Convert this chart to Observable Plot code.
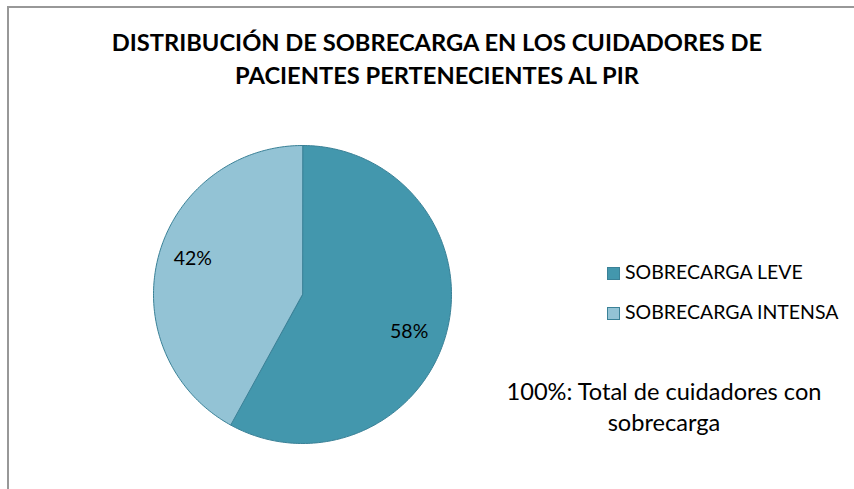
<!DOCTYPE html>
<html><head><meta charset="utf-8">
<script src="https://cdn.jsdelivr.net/npm/d3@7"></script>
<script src="https://cdn.jsdelivr.net/npm/@observablehq/plot@0.6"></script>
<style>
html,body{margin:0;padding:0;background:#fff;width:854px;height:489px;overflow:hidden;}
#wrap{position:relative;width:854px;height:489px;font-family:Lato,"Open Sans",sans-serif;}
#frame{position:absolute;left:7px;top:6px;width:900px;height:600px;border:2px solid #989898;box-sizing:border-box;}
#title{position:absolute;left:0;top:26.3px;width:874px;text-align:center;font-weight:bold;font-size:23.7px;line-height:33px;color:#000;}
#legend{position:absolute;left:607px;top:261.7px;font-size:19.5px;color:#000;}
.item{display:flex;align-items:center;height:20px;line-height:20px;margin-bottom:20px;white-space:nowrap;}
.sw{width:11px;height:11px;margin-right:5px;border:1px solid #3a8197;position:relative;top:1.5px;}
#note{position:absolute;left:480px;top:376px;width:368px;text-align:center;font-size:23.6px;line-height:31px;color:#000;}
#chart{position:absolute;left:0;top:0;}
</style></head>
<body><div id="wrap"><div id="frame"></div><div id="chart"></div>
<div id="title"></div><div id="legend"></div><div id="note"></div></div>
<script>
const titleLines = ["DISTRIBUCIÓN DE SOBRECARGA EN LOS CUIDADORES DE", "PACIENTES PERTENECIENTES AL PIR"];
const categories = ["SOBRECARGA LEVE", "SOBRECARGA INTENSA"];
const values = [58, 42];
const labels = ["58%", "42%"];
const colors = ["#4397ad", "#93c3d5"];
const noteLines = ["100%: Total de cuidadores con", "sobrecarga"];

const total = d3.sum(values);
// slice polygons in unit coordinates, starting at 12 o'clock, clockwise
const poly = [];
const labelPts = [];
let start = 0;
categories.forEach((c, i) => {
  const a0 = start / total * 2 * Math.PI;
  const a1 = (start + values[i]) / total * 2 * Math.PI;
  poly.push({cat: c, x: 0, y: 0});
  const n = Math.max(2, Math.ceil((a1 - a0) / (Math.PI / 180)));
  for (let k = 0; k <= n; k++) {
    const a = a0 + (a1 - a0) * k / n;
    poly.push({cat: c, x: Math.sin(a), y: Math.cos(a)});
  }
  const am = (a0 + a1) / 2;
  labelPts.push({cat: c, label: labels[i], x: 0.76 * Math.sin(am), y: 0.76 * Math.cos(am)});
  start += values[i];
});

const textStyle = {x: "x", y: "y", text: "label", fontSize: 19.5, fill: "#000", fontFamily: "Lato, sans-serif"};
const plot = Plot.plot({
  width: 854, height: 489,
  margin: 0,
  x: {domain: [-1, 1], range: [153, 451], axis: null},
  y: {domain: [-1, 1], range: [443, 145], axis: null},
  color: {domain: categories, range: colors},
  marks: [
    Plot.line(poly, {x: "x", y: "y", z: "cat", fill: "cat", stroke: "#3a8197", strokeWidth: 1, curve: "linear-closed"}),
    Plot.text(labelPts.filter(d => d.cat === categories[0]), {...textStyle, dx: -3, dy: 9}),
    Plot.text(labelPts.filter(d => d.cat === categories[1]), {...textStyle, dx: 0, dy: -8})
  ]
});
document.getElementById("chart").appendChild(plot);

document.getElementById("title").innerHTML = titleLines.join("<br>");
document.getElementById("note").innerHTML = noteLines.join("<br>");
const lg = document.getElementById("legend");
categories.forEach((c, i) => {
  const it = document.createElement("div"); it.className = "item";
  const sw = document.createElement("div"); sw.className = "sw"; sw.style.background = colors[i];
  const t = document.createElement("span"); t.textContent = c;
  it.appendChild(sw); it.appendChild(t); lg.appendChild(it);
});
</script></body></html>
